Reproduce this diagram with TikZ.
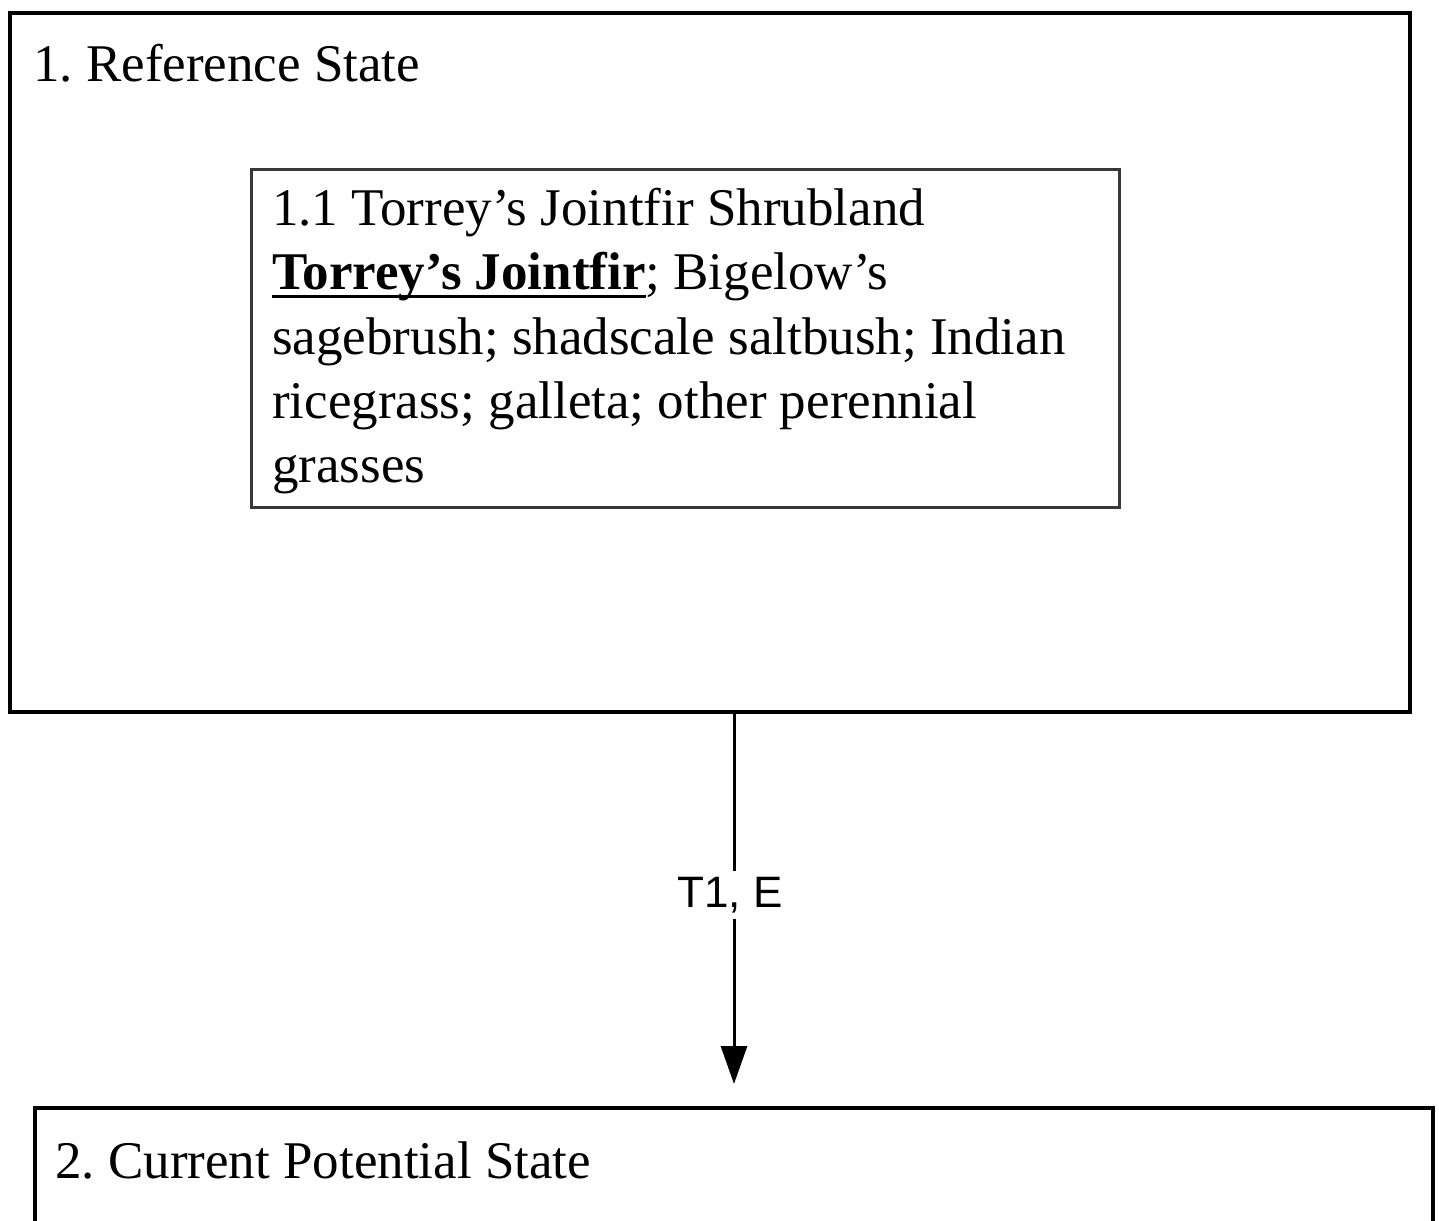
\documentclass[tikz,border=0pt]{standalone}
\usepackage{fontspec}
\setmainfont{Liberation Serif}
\newfontfamily\labelsans{Liberation Sans}
\usetikzlibrary{arrows.meta}
\newcommand{\thickul}[1]{\leavevmode\setbox0\hbox{#1}\rlap{\raisebox{-8pt}{\rule{\wd0}{2.6pt}}}\box0}
\frenchspacing
\begin{document}
\begin{tikzpicture}[x=1pt,y=-1pt,
  statebox/.style={draw=black,line width=4.5pt,rectangle,inner sep=0pt},
  phasebox/.style={draw=black!78,line width=3pt,rectangle,inner sep=0pt},
  title/.style={font=\fontsize{53}{64}\selectfont,inner sep=0pt,anchor=base west},
  body/.style={font=\fontsize{53}{64.3}\selectfont,inner sep=0pt,align=left,anchor=north west},
  trans/.style={font=\labelsans\fontsize{44}{50}\selectfont,fill=white,inner sep=6pt},
  conn/.style={line width=3pt,-{Triangle[width=26pt,length=38pt]}}]
\clip (0,0) rectangle (1439,1220);
\fill[white] (0,0) rectangle (1439,1220);
% state 1
\node[statebox,minimum width=1400pt,minimum height=699pt] (s1) at (710,362.5) {};
\node[title] (s1t) at (33,82) {1. Reference State};
\node[phasebox,minimum width=868pt,minimum height=338pt] (p11) at (685,338) {};
\node[body] (p11t) at (272,188) {1.1 Torrey’s Jointfir Shrubland\\
\thickul{\textbf{Torrey’s Jointfir}}; Bigelow’s\\
sagebrush; shadscale saltbush; Indian\\
ricegrass; galleta; other perennial\\
grasses};
% state 2
\node[statebox,minimum width=1398pt,minimum height=300pt] (s2) at (734,1258) {};
\node[title] (s2t) at (55,1178) {2. Current Potential State};
% transition
\coordinate (tip) at (734,1084);
\draw[conn] (s1.south -| tip) -- (tip);
\node[trans] (t1) at (730,895) {T1, E};
\end{tikzpicture}
\end{document}
